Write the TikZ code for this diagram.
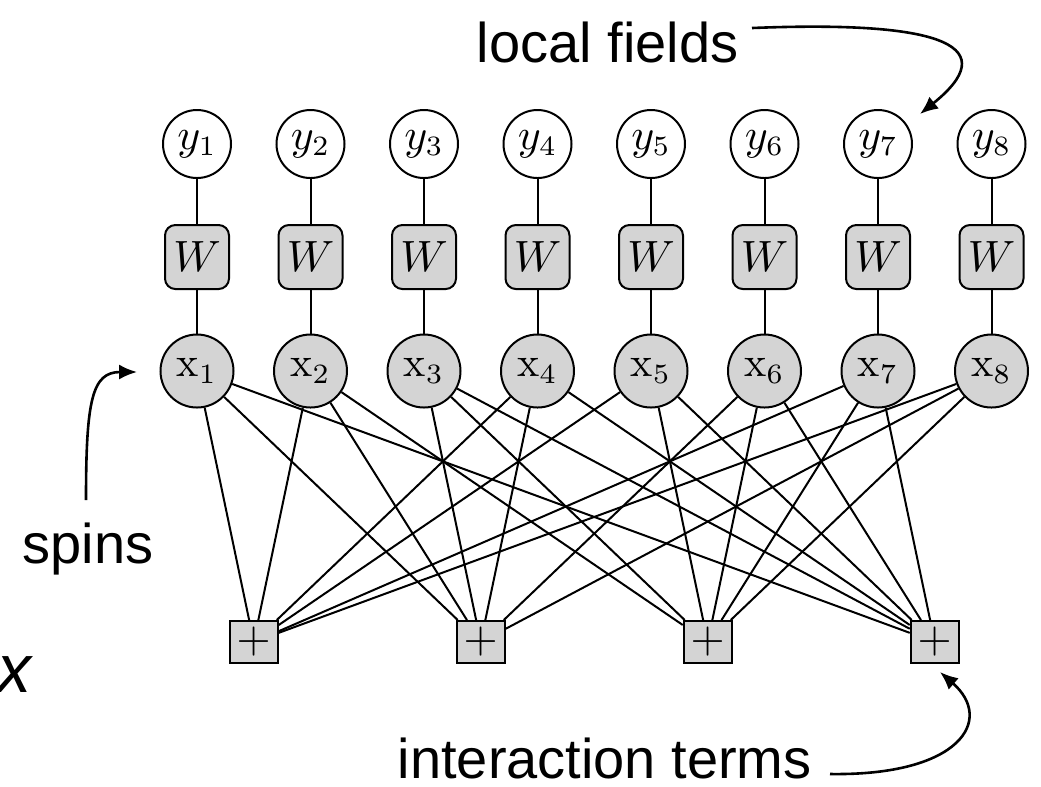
\documentclass[tikz,border=0pt]{standalone}
\usepackage{fontspec}
\newfontfamily\labelfont{Liberation Sans}
\usetikzlibrary{arrows.meta}
\definecolor{nodegray}{RGB}{212,212,212}
\begin{document}
\begin{tikzpicture}[x=0.25pt,y=-0.25pt,
  every node/.style={font=\fontsize{10.5}{12}\selectfont},
  ynode/.style={circle,draw,fill=white,line width=0.5pt,minimum size=17pt,inner sep=0pt},
  wnode/.style={rectangle,rounded corners=2.6pt,draw,fill=nodegray,line width=0.5pt,minimum size=16pt,inner sep=0pt},
  xnode/.style={circle,draw,fill=nodegray,line width=0.5pt,minimum size=18.25pt,inner sep=0pt},
  fnode/.style={rectangle,draw,fill=nodegray,line width=0.5pt,minimum width=12pt,minimum height=10.5pt,inner sep=0pt},
  edge/.style={line width=0.5pt},
  note/.style={font=\labelfont\fontsize{14}{16}\selectfont,inner sep=0pt},
  pointer/.style={line width=0.65pt,-{Latex[length=4.5pt,width=3.8pt]}}
]
\clip (0,0) rectangle (1041,786);

% spins, weights and local fields
\foreach \i in {1,...,8} {
  \pgfmathsetmacro\cx{197+113.5*(\i-1)}
  \node[ynode] (y\i) at (\cx,144) {$y_{\i}$};
  \node[wnode] (w\i) at (\cx,257) {$W$};
  \node[xnode] (x\i) at (\cx,371) {$\mathrm{x}_{\i}$};
  \draw[edge] (y\i) -- (w\i) -- (x\i);
}

% interaction factors
\node[fnode] (f1) at (253.75,642) {$+$};
\node[fnode] (f2) at (480.75,642) {$+$};
\node[fnode] (f3) at (707.75,642) {$+$};
\node[fnode] (f4) at (934.75,642) {$+$};

\foreach \i in {1,2,4,5,7,8} \draw[edge] (x\i) -- (f1);
\foreach \i in {1,2,3,4,6,8} \draw[edge] (x\i) -- (f2);
\foreach \i in {2,3,5,6,7,8} \draw[edge] (x\i) -- (f3);
\foreach \i in {1,3,4,5,6,7} \draw[edge] (x\i) -- (f4);

% annotations
\node[note,anchor=base west] (lf) at (476,62) {local fields};
\coordinate (lfstart) at (752,28);
\coordinate (lftip) at (920,114);
\draw[pointer] (lfstart) .. controls (950,20) and (1002,48) .. (lftip);

\node[note,anchor=base] (sp) at (88,563) {spins};
\coordinate (spstart) at (86,500);
\coordinate (sptip) at (137,372);
\draw[pointer] (spstart) .. controls (86,400) and (92,372) .. (sptip);

\node[note,anchor=base west] (it) at (397,778) {interaction terms};
\coordinate (itstart) at (830,774);
\coordinate (ittip) at (940,672);
\draw[pointer] (itstart) .. controls (960,776) and (995,720) .. (ittip);

\node[anchor=base west,inner sep=0pt,font=\labelfont\itshape\fontsize{17}{20}\selectfont] (xl) at (-3,692) {x};
\end{tikzpicture}
\end{document}
